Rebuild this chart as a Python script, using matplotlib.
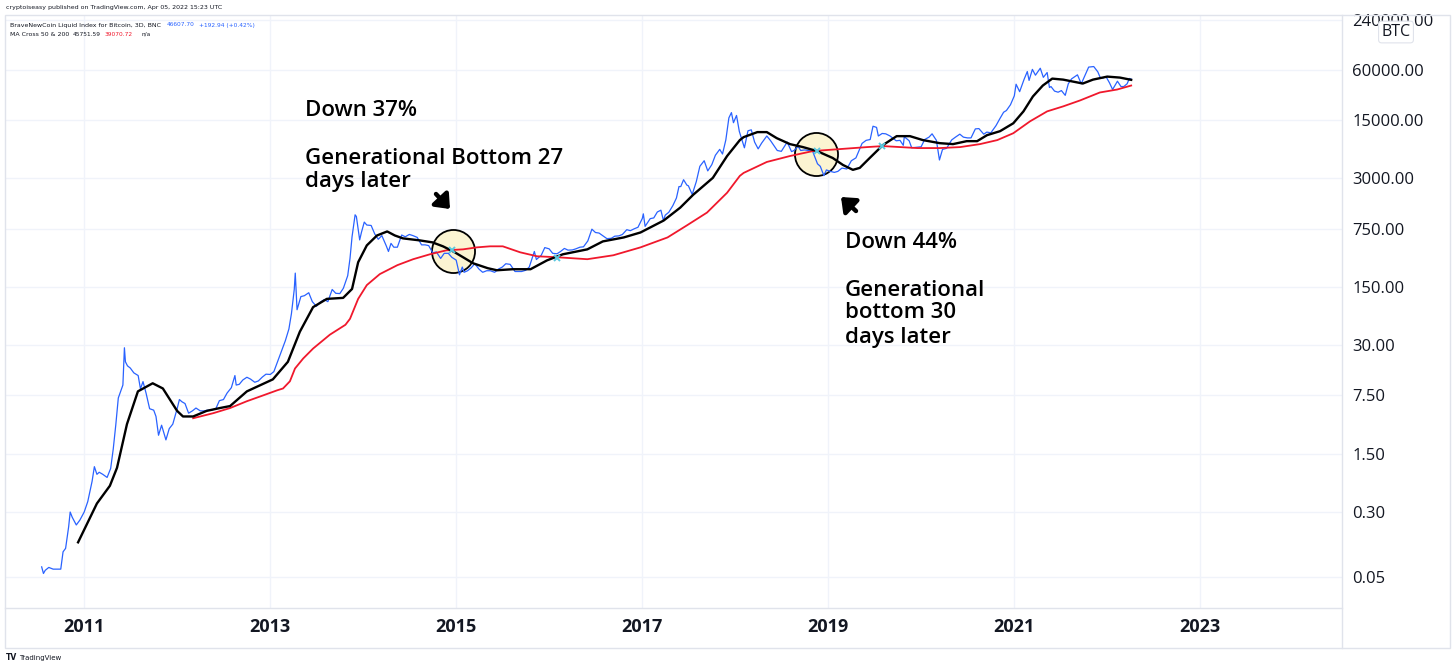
import matplotlib
matplotlib.use("Agg")
import matplotlib.pyplot as plt
import matplotlib.ticker as mticker
import pandas as pd

# ── colours ────
BLUE    = "#2962ff"
RED     = "#f0182c"
BLACK   = "#000000"
GRID    = "#f0f3fa"
BORDER  = "#e0e3eb"
TEXT    = "#131722"
CIRCLE  = "#fbf4d2"
CROSS   = "#5bc8e0"

# ── BTC price (BNC index, approx 3D closes) ────
price_dates = [
    "2010-07-18", "2010-07-25", "2010-08-01", "2010-08-15", "2010-09-01", "2010-09-15",
    "2010-10-01", "2010-10-10", "2010-10-20", "2010-11-01", "2010-11-07", "2010-11-15",
    "2010-12-01", "2010-12-15", "2011-01-01", "2011-01-15", "2011-02-01", "2011-02-10",
    "2011-02-20", "2011-03-01", "2011-03-15", "2011-04-01", "2011-04-15", "2011-04-25",
    "2011-05-05", "2011-05-15", "2011-05-25", "2011-06-02", "2011-06-08", "2011-06-12",
    "2011-06-20", "2011-07-01", "2011-07-15", "2011-08-01", "2011-08-10", "2011-08-20",
    "2011-09-01", "2011-09-15", "2011-10-01", "2011-10-10", "2011-10-20", "2011-11-01",
    "2011-11-18", "2011-12-01", "2011-12-15", "2012-01-01", "2012-01-10", "2012-01-20",
    "2012-02-01", "2012-02-15", "2012-03-01", "2012-03-15", "2012-04-01", "2012-04-15",
    "2012-05-01", "2012-05-15", "2012-06-01", "2012-06-15", "2012-07-01", "2012-07-15",
    "2012-08-01", "2012-08-15", "2012-08-20", "2012-09-01", "2012-09-15", "2012-10-01",
    "2012-10-15", "2012-11-01", "2012-11-15", "2012-12-01", "2012-12-15", "2013-01-01",
    "2013-01-15", "2013-02-01", "2013-02-15", "2013-03-01", "2013-03-15", "2013-03-25",
    "2013-04-05", "2013-04-09", "2013-04-16", "2013-05-01", "2013-05-15", "2013-06-01",
    "2013-06-15", "2013-07-01", "2013-07-15", "2013-08-01", "2013-08-15", "2013-09-01",
    "2013-09-15", "2013-10-01", "2013-10-15", "2013-11-01", "2013-11-10", "2013-11-18",
    "2013-11-30", "2013-12-05", "2013-12-18", "2013-12-25", "2014-01-05", "2014-01-15",
    "2014-02-01", "2014-02-15", "2014-03-01", "2014-03-15", "2014-04-01", "2014-04-10",
    "2014-04-20", "2014-05-01", "2014-05-15", "2014-06-01", "2014-06-15", "2014-07-01",
    "2014-07-15", "2014-08-01", "2014-08-18", "2014-09-01", "2014-09-15", "2014-10-01",
    "2014-10-15", "2014-11-01", "2014-11-15", "2014-12-01", "2014-12-15", "2015-01-01",
    "2015-01-14", "2015-01-25", "2015-02-01", "2015-02-15", "2015-03-01", "2015-03-15",
    "2015-04-01", "2015-04-15", "2015-05-01", "2015-05-15", "2015-06-01", "2015-06-15",
    "2015-07-01", "2015-07-15", "2015-08-01", "2015-08-20", "2015-09-01", "2015-09-15",
    "2015-10-01", "2015-10-15", "2015-11-04", "2015-11-12", "2015-12-01", "2015-12-15",
    "2016-01-01", "2016-01-15", "2016-02-01", "2016-02-15", "2016-03-01", "2016-03-15",
    "2016-04-01", "2016-04-15", "2016-05-01", "2016-05-15", "2016-06-01", "2016-06-17",
    "2016-07-01", "2016-07-15", "2016-08-01", "2016-08-15", "2016-09-01", "2016-09-15",
    "2016-10-01", "2016-10-15", "2016-11-01", "2016-11-15", "2016-12-01", "2016-12-15",
    "2017-01-01", "2017-01-05", "2017-01-12", "2017-02-01", "2017-02-15", "2017-03-01",
    "2017-03-15", "2017-03-25", "2017-04-01", "2017-04-15", "2017-05-01", "2017-05-15",
    "2017-05-25", "2017-06-01", "2017-06-12", "2017-06-25", "2017-07-01", "2017-07-16",
    "2017-08-01", "2017-08-15", "2017-09-01", "2017-09-15", "2017-10-01", "2017-10-15",
    "2017-11-01", "2017-11-12", "2017-11-25", "2017-12-07", "2017-12-17", "2017-12-25",
    "2018-01-06", "2018-01-17", "2018-02-06", "2018-02-20", "2018-03-05", "2018-03-18",
    "2018-04-01", "2018-04-15", "2018-05-05", "2018-05-20", "2018-06-01", "2018-06-15",
    "2018-07-01", "2018-07-24", "2018-08-10", "2018-08-20", "2018-09-05", "2018-09-15",
    "2018-10-01", "2018-10-15", "2018-11-01", "2018-11-20", "2018-12-01", "2018-12-15",
    "2018-12-25", "2019-01-10", "2019-01-25", "2019-02-08", "2019-02-24", "2019-03-15",
    "2019-04-02", "2019-04-20", "2019-05-14", "2019-05-30", "2019-06-15", "2019-06-26",
    "2019-07-10", "2019-07-17", "2019-08-01", "2019-08-15", "2019-09-01", "2019-09-25",
    "2019-10-10", "2019-10-23", "2019-10-27", "2019-11-15", "2019-11-25", "2019-12-15",
    "2020-01-01", "2020-01-15", "2020-02-01", "2020-02-13", "2020-03-01", "2020-03-13",
    "2020-03-25", "2020-04-10", "2020-04-30", "2020-05-15", "2020-06-01", "2020-06-15",
    "2020-07-01", "2020-07-15", "2020-08-01", "2020-08-15", "2020-09-03", "2020-09-15",
    "2020-10-01", "2020-10-21", "2020-11-05", "2020-11-20", "2020-12-01", "2020-12-17",
    "2021-01-01", "2021-01-08", "2021-01-22", "2021-02-08", "2021-02-21", "2021-02-28",
    "2021-03-13", "2021-03-25", "2021-04-13", "2021-04-25", "2021-05-10", "2021-05-19",
    "2021-05-25", "2021-06-08", "2021-06-22", "2021-07-05", "2021-07-20", "2021-08-01",
    "2021-08-14", "2021-09-06", "2021-09-21", "2021-10-01", "2021-10-20", "2021-11-09",
    "2021-11-25", "2021-12-04", "2021-12-15", "2021-12-27", "2022-01-10", "2022-01-22",
    "2022-02-10", "2022-02-24", "2022-03-07", "2022-03-20", "2022-03-29", "2022-04-05",
]
price_vals = [
    0.066, 0.055, 0.060, 0.065, 0.062, 0.062,
    0.062, 0.100, 0.110, 0.200, 0.300, 0.260,
    0.210, 0.240, 0.300, 0.400, 0.700, 1.05,
    0.85, 0.90, 0.85, 0.78, 1.0, 1.7,
    3.3, 7.0, 8.5, 10.0, 28.0, 19.0,
    17.0, 16.0, 14.0, 13.0, 9.0, 11.0,
    8.0, 5.2, 5.0, 4.2, 2.5, 3.3,
    2.2, 3.0, 3.4, 5.2, 6.7, 6.3,
    6.0, 4.6, 4.9, 5.3, 4.9, 4.9,
    5.0, 5.0, 5.2, 6.5, 6.7, 8.0,
    9.3, 13.0, 10.0, 10.2, 11.5, 12.4,
    11.8, 10.8, 11.2, 12.5, 13.5, 13.4,
    14.5, 20.0, 26.0, 34.0, 47.0, 72.0,
    140.0, 220.0, 80.0, 115.0, 118.0, 128.0,
    100.0, 88.0, 98.0, 106.0, 100.0, 140.0,
    126.0, 125.0, 145.0, 205.0, 330.0, 600.0,
    1100.0, 1050.0, 550.0, 680.0, 900.0, 830.0,
    820.0, 650.0, 560.0, 620.0, 470.0, 400.0,
    500.0, 450.0, 450.0, 630.0, 600.0, 640.0,
    620.0, 590.0, 480.0, 480.0, 470.0, 385.0,
    395.0, 330.0, 380.0, 380.0, 340.0, 315.0,
    210.0, 260.0, 225.0, 235.0, 255.0, 285.0,
    245.0, 225.0, 235.0, 235.0, 225.0, 245.0,
    260.0, 285.0, 280.0, 230.0, 230.0, 230.0,
    238.0, 260.0, 400.0, 320.0, 360.0, 445.0,
    430.0, 380.0, 375.0, 400.0, 435.0, 415.0,
    417.0, 430.0, 450.0, 455.0, 535.0, 740.0,
    675.0, 665.0, 610.0, 570.0, 575.0, 610.0,
    615.0, 640.0, 730.0, 710.0, 750.0, 780.0,
    995.0, 1130.0, 800.0, 990.0, 1010.0, 1190.0,
    1250.0, 940.0, 1090.0, 1180.0, 1420.0, 1750.0,
    2400.0, 2400.0, 2900.0, 2500.0, 2450.0, 1930.0,
    2750.0, 4200.0, 4900.0, 3700.0, 4400.0, 5700.0,
    6700.0, 5900.0, 8700.0, 16000.0, 18500.0, 14000.0,
    17100.0, 11000.0, 7000.0, 11200.0, 11500.0, 8200.0,
    6800.0, 8000.0, 9700.0, 8500.0, 7500.0, 6500.0,
    6350.0, 8200.0, 6300.0, 6500.0, 7300.0, 6500.0,
    6600.0, 6500.0, 6350.0, 4500.0, 4200.0, 3250.0,
    3800.0, 3650.0, 3550.0, 3650.0, 4000.0, 3900.0,
    4900.0, 5300.0, 7900.0, 8600.0, 8800.0, 12700.0,
    12300.0, 9700.0, 10400.0, 10300.0, 9700.0, 8500.0,
    8600.0, 7500.0, 9500.0, 8500.0, 7000.0, 7100.0,
    7200.0, 8800.0, 9400.0, 10300.0, 8600.0, 5000.0,
    6700.0, 6900.0, 8700.0, 9400.0, 10200.0, 9400.0,
    9200.0, 9200.0, 11800.0, 11900.0, 10200.0, 10800.0,
    10600.0, 12900.0, 15600.0, 18700.0, 19600.0, 23000.0,
    29400.0, 40500.0, 33000.0, 46000.0, 57500.0, 45000.0,
    61000.0, 52000.0, 63000.0, 49000.0, 56000.0, 37000.0,
    38000.0, 33500.0, 32500.0, 34000.0, 29800.0, 41000.0,
    47000.0, 52500.0, 41000.0, 48000.0, 65000.0, 66000.0,
    57000.0, 49000.0, 48000.0, 50000.0, 42000.0, 35000.0,
    44000.0, 38000.0, 38000.0, 41000.0, 47500.0, 46600.0,
]

# ── MA 50 (black) ────
ma50_dates = [
    "2010-12-08", "2011-02-20", "2011-04-12", "2011-05-10", "2011-06-18", "2011-07-31",
    "2011-09-27", "2011-11-06", "2012-01-01", "2012-01-24", "2012-03-04", "2012-04-26",
    "2012-06-17", "2012-07-27", "2012-10-01", "2013-01-11", "2013-03-11", "2013-04-27",
    "2013-06-18", "2013-08-11", "2013-10-14", "2013-11-18", "2013-12-12", "2014-01-15",
    "2014-02-24", "2014-04-05", "2014-05-05", "2014-06-06", "2014-08-11", "2014-09-30",
    "2014-11-10", "2014-12-20", "2015-01-28", "2015-03-08", "2015-05-05", "2015-06-10",
    "2015-08-11", "2015-10-20", "2015-12-24", "2016-02-24", "2016-05-30", "2016-07-30",
    "2016-10-20", "2016-12-25", "2017-03-26", "2017-05-30", "2017-07-20", "2017-10-05",
    "2017-11-30", "2018-01-19", "2018-02-03", "2018-03-29", "2018-05-05", "2018-06-13",
    "2018-08-04", "2018-09-24", "2018-11-18", "2019-01-19", "2019-02-28", "2019-04-08",
    "2019-05-05", "2019-06-13", "2019-08-04", "2019-09-27", "2019-11-18", "2020-01-08",
    "2020-03-14", "2020-05-05", "2020-06-28", "2020-08-08", "2020-09-16", "2020-11-06",
    "2020-12-28", "2021-02-06", "2021-03-15", "2021-04-23", "2021-05-30", "2021-07-12",
    "2021-08-19", "2021-09-27", "2021-11-06", "2022-01-01", "2022-02-20", "2022-04-05",
]
ma50_vals = [
    0.13, 0.38, 0.62, 1.02, 3.4, 8.4,
    10.5, 9.1, 4.9, 4.2, 4.2, 4.9,
    5.3, 5.6, 8.4, 11.7, 19.0, 43.6,
    86.0, 108.0, 111.0, 142.0, 297.0, 473.0,
    622.0, 695.0, 622.0, 574.0, 543.0, 514.0,
    461.0, 401.0, 341.0, 289.0, 252.0, 238.0,
    245.0, 245.0, 313.0, 370.0, 424.0, 528.0,
    589.0, 676.0, 940.0, 1342.0, 1916.0, 3052.0,
    5580.0, 8660.0, 9400.0, 10800.0, 10800.0, 9140.0,
    7750.0, 7140.0, 6400.0, 5280.0, 4360.0, 3810.0,
    4020.0, 5280.0, 7550.0, 9660.0, 9660.0, 8660.0,
    7960.0, 7750.0, 8410.0, 8410.0, 9930.0, 11080.0,
    13780.0, 19150.0, 28890.0, 39080.0, 47300.0, 46000.0,
    43600.0, 41300.0, 46000.0, 50000.0, 48650.0, 45750.0,
]

# ── MA 200 (red) ────
ma200_dates = [
    "2012-03-04", "2012-05-22", "2012-07-27", "2012-10-01", "2012-12-03", "2013-01-28",
    "2013-02-20", "2013-03-19", "2013-04-08", "2013-05-10", "2013-06-18", "2013-08-23",
    "2013-10-23", "2013-11-10", "2013-12-12", "2014-01-15", "2014-03-07", "2014-05-15",
    "2014-07-16", "2014-09-20", "2014-11-24", "2015-01-28", "2015-03-24", "2015-05-14",
    "2015-07-03", "2015-09-09", "2015-11-15", "2016-02-01", "2016-05-30", "2016-09-09",
    "2016-12-25", "2017-04-10", "2017-06-24", "2017-09-12", "2017-11-30", "2018-01-19",
    "2018-02-03", "2018-05-05", "2018-08-04", "2018-11-02", "2019-02-17", "2019-06-03",
    "2019-08-04", "2019-12-17", "2020-03-14", "2020-06-02", "2020-08-19", "2020-10-26",
    "2020-12-28", "2021-03-04", "2021-05-10", "2021-07-12", "2021-09-16", "2021-12-03",
    "2022-02-09", "2022-04-05",
]
ma200_vals = [
    4.0, 4.6, 5.3, 6.4, 7.5, 8.65,
    9.1, 11.1, 15.8, 20.8, 27.4, 40.2,
    52.8, 62.3, 108.0, 158.0, 214.0, 274.0,
    323.0, 370.0, 413.0, 424.0, 448.0, 461.0,
    461.0, 391.0, 350.0, 341.0, 323.0, 360.0,
    448.0, 589.0, 818.0, 1170.0, 2024.0, 3225.0,
    3500.0, 4735.0, 5580.0, 6400.0, 6760.0, 7140.0,
    7340.0, 6950.0, 6950.0, 7140.0, 7750.0, 8660.0,
    10470.0, 14560.0, 19150.0, 21980.0, 25880.0, 32260.0,
    35000.0, 39070.0,
]

# MA cross markers and highlighted circles
cross_dates = ["2014-12-15", "2016-02-01", "2018-11-18", "2019-07-31"]
cross_vals  = [413.0, 331.0, 6400.0, 7340.0]
circle_dates = ["2014-12-21", "2018-11-16"]
circle_vals  = [407.0, 5970.0]

year_ticks  = [2011, 2013, 2015, 2017, 2019, 2021, 2023]
price_ticks = [0.05, 0.30, 1.50, 7.50, 30.00, 150.00, 750.00, 3000.00,
               15000.00, 60000.00, 240000.00]

W, H = 1456, 668
fig = plt.figure(figsize=(W / 100, H / 100), dpi=100)
fig.patch.set_facecolor("white")


def fx(x):
    return x / W


def fy(y):
    return (H - y) / H


# plot area: x 5..1342, y 15..608 (pixels from top)
ax = fig.add_axes([fx(5), fy(608), (1342 - 5) / W, (608 - 15) / H])
ax.set_facecolor("white")

dt = pd.to_datetime
ax.plot(dt(price_dates), price_vals, color=BLUE, lw=0.9, zorder=4)
ax.plot(dt(ma200_dates), ma200_vals, color=RED, lw=1.3, zorder=5)
ax.plot(dt(ma50_dates), ma50_vals, color=BLACK, lw=1.7, zorder=6)
ax.plot(dt(circle_dates), circle_vals, "o", ms=31, mfc=CIRCLE, mec=BLACK,
        mew=1.3, zorder=3)
ax.plot(dt(cross_dates), cross_vals, "x", ms=4, mew=1.4, color=CROSS, zorder=7)

ax.set_yscale("log")
ax.set_ylim(0.0212, 274000)
ax.set_xlim(dt("2010-02-24"), dt("2024-07-11"))

ax.set_yticks(price_ticks)
ax.set_yticklabels([f"{v:.2f}" for v in price_ticks])
ax.yaxis.set_minor_locator(mticker.NullLocator())
ax.yaxis.tick_right()
ax.set_xticks([dt(f"{y}-01-01") for y in year_ticks])
ax.set_xticklabels([str(y) for y in year_ticks])
ax.tick_params(axis="y", length=0, pad=7.5, labelsize=12, labelcolor=TEXT)
ax.tick_params(axis="x", length=0, pad=7, labelsize=13, labelcolor=TEXT)
for lab in ax.get_xticklabels():
    lab.set_fontfamily("Open Sans")
    lab.set_fontweight("bold")
for lab in ax.get_yticklabels():
    lab.set_fontfamily("Open Sans")
    lab.set_horizontalalignment("left")

ax.grid(True, color=GRID, lw=1.0)
ax.set_axisbelow(True)
for sp in ax.spines.values():
    sp.set_edgecolor(BORDER)
    sp.set_linewidth(1.0)
ax.spines["top"].set_visible(False)
ax.spines["left"].set_visible(False)
ax.spines["right"].set_visible(False)

# outer frame of the chart pane and the price scale separator
fig.add_artist(plt.Rectangle((fx(5), fy(648)), (1450 - 5) / W, (648 - 15) / H,
                             transform=fig.transFigure, fill=False, ec=BORDER, lw=1.0))
fig.add_artist(plt.Line2D([fx(1342), fx(1342)], [fy(648), fy(15)],
                          transform=fig.transFigure, color=BORDER, lw=1.0))

# annotations
for txt, (x, y) in [("Down 37%", (305, 111)),
                    ("Generational Bottom 27", (305, 159)),
                    ("days later", (305, 182)),
                    ("Down 44%", (845, 243)),
                    ("Generational", (845, 290)),
                    ("bottom 30", (845, 313)),
                    ("days later", (845, 337))]:
    fig.text(fx(x), fy(y), txt, fontfamily="Open Sans", fontsize=16,
             fontweight="semibold", color=BLACK, va="center", ha="left")

arrow = dict(arrowstyle="-|>,head_length=0.55,head_width=0.45", lw=3.2,
             color=BLACK, shrinkA=0, shrinkB=0, mutation_scale=14)
ax.annotate("", xy=(450, H - 209), xytext=(436, H - 194), xycoords="figure pixels",
            textcoords="figure pixels", arrowprops=arrow)
ax.annotate("", xy=(841, H - 197), xytext=(856, H - 211), xycoords="figure pixels",
            textcoords="figure pixels", arrowprops=arrow)

# header / legend
SMALL = dict(fontsize=4.5, va="center", ha="left", fontfamily="DejaVu Sans")
NUM = dict(fontsize=4.2, va="center", ha="left", fontfamily="DejaVu Sans")
fig.text(fx(6), fy(8), "cryptoiseasy published on TradingView.com, Apr 05, 2022 15:23 UTC",
         color=TEXT, **SMALL)
fig.text(fx(10), fy(25), "BraveNewCoin Liquid Index for Bitcoin, 3D, BNC", color=TEXT, **SMALL)
fig.text(fx(167), fy(25), "46607.70", color=BLUE, **NUM)
fig.text(fx(199), fy(25), "+192.94 (+0.42%)", color=BLUE, **NUM)
fig.text(fx(10), fy(34), "MA Cross 50 & 200", color=TEXT, **SMALL)
fig.text(fx(73), fy(34), "45751.59", color=TEXT, **NUM)
fig.text(fx(105), fy(34), "39070.72", color=RED, **NUM)
fig.text(fx(142), fy(34), "n/a", color=TEXT, **NUM)

# BTC unit label over the price scale (covers part of the top price label)
fig.text(fx(1396), fy(32), "BTC", fontsize=11.5, fontfamily="Open Sans",
         color=TEXT, ha="center", va="center", zorder=10,
         bbox=dict(boxstyle="round,pad=0.18,rounding_size=0.2", fc="white",
                   ec=BORDER, lw=0.8))

# TradingView footer
fig.text(fx(6), fy(658), "TV", fontsize=5.5, fontweight="bold", color=TEXT,
         va="center", ha="left")
fig.text(fx(19), fy(658), "TradingView", fontsize=5, color=TEXT,
         va="center", ha="left")

fig.savefig("out.png", dpi=100, facecolor="white")
